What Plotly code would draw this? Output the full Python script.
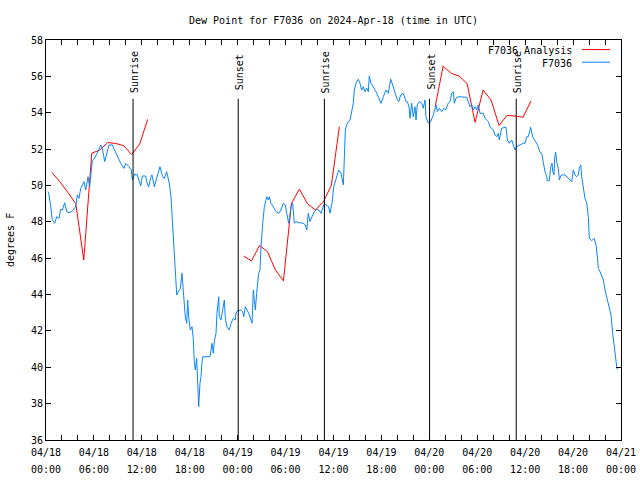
import plotly.graph_objects as go
import pandas as pd

BASE = pd.Timestamp("2024-04-18 00:00")

# Observations (F7036): hours after 04/18 00:00 UTC and dew point (F)
obs_hours = [
    0.25, 0.38, 0.59, 0.79, 1.09, 1.34, 1.63, 1.84, 2.04, 2.34,
    2.59, 2.88, 3.29, 3.72, 3.92, 4.13, 4.35, 4.76, 4.97, 5.26,
    5.47, 5.60, 5.80, 6.01, 6.42, 6.85, 7.05, 7.35, 7.60, 7.89,
    8.30, 8.60, 8.93, 9.35, 9.77, 9.98, 10.39, 10.68, 10.81, 11.11,
    11.43, 11.86, 12.06, 12.48, 12.69, 12.86, 13.15, 13.27, 13.56, 13.86,
    14.27, 14.61, 14.81, 15.11, 15.44, 15.65, 15.78, 15.94, 16.07, 16.19,
    16.37, 16.57, 16.82, 17.03, 17.12, 17.24, 17.44, 17.62, 17.74, 17.87,
    18.07, 18.28, 18.44, 18.57, 18.70, 18.87, 19.00, 19.07, 19.12, 19.28,
    19.41, 19.53, 19.62, 20.54, 20.79, 20.95, 21.07, 21.29, 21.41, 21.63,
    21.70, 21.91, 22.13, 22.33, 22.45, 22.63, 22.95, 23.17, 23.45, 23.70,
    23.79, 24.00, 24.42, 24.63, 24.76, 24.96, 25.38, 25.67, 25.80, 25.96,
    26.21, 26.38, 26.63, 26.80, 26.92, 27.14, 27.34, 27.64, 27.84, 27.96,
    28.17, 28.46, 28.80, 29.14, 29.43, 29.71, 29.97, 30.14, 30.39, 30.68,
    30.89, 31.09, 31.30, 31.72, 32.22, 32.47, 32.65, 32.84, 33.06, 33.31,
    33.60, 33.90, 34.15, 34.44, 34.65, 34.85, 35.06, 35.40, 35.56, 35.81,
    36.03, 36.31, 36.65, 36.94, 37.23, 37.35, 37.48, 37.65, 37.85, 38.07,
    38.28, 38.48, 38.61, 38.82, 39.11, 39.32, 39.53, 39.73, 39.94, 40.16,
    40.36, 40.48, 40.70, 40.98, 41.32, 41.61, 41.95, 42.24, 42.57, 42.86,
    43.16, 43.41, 43.70, 43.91, 44.16, 44.42, 44.74, 45.08, 45.24, 45.45,
    45.58, 45.79, 45.99, 46.21, 46.33, 46.49, 46.74, 47.04, 47.24, 47.46,
    47.58, 47.87, 48.17, 48.50, 48.84, 49.00, 49.25, 49.55, 49.84, 50.05,
    50.38, 50.59, 50.80, 51.00, 51.13, 51.34, 51.63, 52.05, 52.68, 52.88,
    53.09, 53.30, 53.51, 53.72, 53.93, 54.13, 54.35, 54.76, 54.97, 55.18,
    55.39, 55.60, 56.01, 56.22, 56.44, 56.64, 56.76, 57.06, 57.60, 57.77,
    58.01, 58.31, 58.51, 58.73, 58.94, 59.35, 59.77, 59.98, 60.19, 60.39,
    60.69, 60.94, 61.23, 61.44, 61.64, 61.86, 62.07, 62.20, 62.36, 62.48,
    62.70, 62.77, 63.02, 63.20, 63.36, 63.45, 63.61, 63.70, 63.83, 63.95,
    64.15, 64.28, 64.45, 64.58, 64.99, 65.20, 65.53, 65.83, 66.03, 66.24,
    66.45, 66.65, 66.78, 66.96, 67.08, 67.21, 67.37, 67.49, 67.71, 67.91,
    68.03, 68.33, 68.62, 68.87, 69.04, 69.16, 69.37, 69.59, 69.79, 70.00,
    70.21, 70.41, 70.63, 70.75, 70.96, 71.13, 71.29, 71.46, 71.54,
]
obs_values = [
    49.66, 49.48, 48.83, 48.10, 47.92, 48.28, 48.19, 48.69, 48.65, 49.05,
    48.56, 48.50, 48.60, 48.83, 49.48, 49.29, 49.84, 50.21, 49.75, 50.48,
    49.93, 50.67, 51.36, 51.44, 51.77, 52.23, 52.05, 51.31, 51.68, 52.23,
    52.23, 51.95, 51.58, 51.22, 50.94, 51.22, 51.03, 50.85, 50.30, 50.63,
    50.58, 49.97, 50.52, 50.52, 50.08, 49.93, 50.48, 50.58, 49.93, 50.39,
    51.03, 50.48, 50.39, 50.76, 50.12, 49.38, 48.28, 47.18, 46.08, 45.08,
    43.98, 44.16, 44.34, 45.17, 44.62, 43.43, 42.78, 42.42, 43.70, 42.78,
    42.05, 42.23, 41.59, 40.31, 39.85, 40.49, 39.48, 38.38, 37.83, 39.12,
    39.48, 40.22, 40.58, 40.58, 41.32, 40.77, 41.41, 41.87, 42.97, 43.88,
    42.78, 42.60, 43.15, 43.70, 42.78, 42.23, 42.05, 42.42, 42.69, 42.60,
    42.97, 43.11, 43.15, 43.06, 42.78, 43.33, 42.97, 42.51, 42.42, 44.25,
    43.15, 44.07, 45.17, 45.35, 46.63, 47.92, 48.83, 49.38, 49.20, 49.38,
    49.02, 48.83, 48.56, 48.47, 48.65, 49.02, 48.93, 48.47, 47.92, 48.83,
    49.02, 47.92, 48.01, 47.95, 47.92, 47.83, 47.55, 48.47, 48.01, 48.28,
    48.56, 48.69, 48.65, 48.47, 48.83, 49.02, 48.93, 48.83, 48.47, 49.02,
    49.93, 50.30, 50.85, 50.67, 50.03, 51.40, 53.05, 53.33, 53.51, 53.60,
    54.06, 54.52, 55.25, 55.62, 55.84, 55.62, 55.25, 55.43, 55.16, 55.35,
    55.16, 56.02, 55.62, 55.43, 55.16, 54.88, 54.52, 54.88, 55.25, 55.07,
    55.84, 55.53, 55.07, 54.80, 54.61, 54.98, 55.07, 54.61, 54.61, 54.33,
    53.70, 54.52, 53.78, 54.33, 53.60, 54.43, 54.61, 54.52, 54.25, 54.70,
    53.78, 53.42, 53.51, 53.88, 54.43, 54.06, 54.25, 54.06, 54.25, 54.15,
    54.54, 54.61, 55.07, 55.16, 54.52, 54.80, 54.88, 54.88, 54.85, 54.61,
    54.33, 54.43, 54.15, 54.33, 54.15, 54.43, 53.97, 53.97, 53.70, 53.60,
    53.51, 53.23, 53.05, 52.78, 52.68, 52.87, 52.50, 53.15, 53.20, 52.50,
    52.32, 52.50, 52.23, 51.95, 52.13, 52.23, 52.32, 52.32, 52.68, 52.68,
    53.20, 52.68, 52.50, 52.32, 52.13, 51.82, 51.77, 51.40, 51.03, 50.76,
    50.48, 50.26, 50.26, 51.03, 51.22, 50.76, 50.58, 51.58, 51.82, 51.31,
    50.94, 50.30, 50.52, 50.58, 50.58, 50.48, 50.30, 50.21, 50.85, 50.58,
    50.48, 50.58, 50.94, 51.13, 50.48, 50.12, 49.57, 49.29, 49.02, 48.28,
    47.09, 46.96, 47.09, 46.73, 46.08, 45.44, 45.26, 44.98, 44.80, 44.25,
    43.88, 43.61, 43.15, 42.88, 41.87, 41.13, 40.68, 40.03, 39.89,
]

# Analysis (F7036 Analysis), three separate runs
ana1_hours = [0.73, 1.73, 2.73, 3.73, 4.73, 5.73, 6.73, 7.73, 8.73, 9.73, 10.73, 11.73, 12.73]
ana1_values = [50.72, 50.21, 49.62, 49.00, 45.90, 51.77, 51.95, 52.36, 52.31, 52.19, 51.70, 52.28, 53.63]
ana2_hours = [24.73, 25.73, 26.73, 27.73, 28.73, 29.73, 30.73, 31.73, 32.73, 33.73, 34.73, 35.73, 36.73]
ana2_values = [46.12, 45.85, 46.70, 46.36, 45.35, 44.75, 49.00, 49.80, 49.00, 48.65, 49.10, 50.00, 53.23]
ana3_hours = [48.73, 49.73, 50.73, 51.73, 52.73, 53.73, 54.73, 55.73, 56.73, 57.73, 58.73, 59.73, 60.73]
ana3_values = [54.33, 56.57, 56.17, 56.02, 55.60, 53.47, 55.25, 54.70, 53.30, 53.85, 53.82, 53.75, 54.65]

# Sunrise / sunset markers
event_labels = ["Sunrise", "Sunset", "Sunrise", "Sunset", "Sunrise"]
event_hours = [10.90, 24.07, 34.86, 48.03, 58.88]

x_tick_hours = [0, 6, 12, 18, 24, 30, 36, 42, 48, 54, 60, 66, 72]
x_tick_dates = ["04/18", "04/18", "04/18", "04/18", "04/19", "04/19", "04/19",
                "04/19", "04/20", "04/20", "04/20", "04/20", "04/21"]
x_tick_times = ["00:00", "06:00", "12:00", "18:00", "00:00", "06:00", "12:00",
                "18:00", "00:00", "06:00", "12:00", "18:00", "00:00"]
y_ticks = [36, 38, 40, 42, 44, 46, 48, 50, 52, 54, 56, 58]


def to_time(h):
    return BASE + pd.Timedelta(hours=h)


FONT = "DejaVu Sans Mono"
RED = "#ff0000"
BLUE = "#0a84ff"
TF = dict(family=FONT, size=10, color="black")

fig = go.Figure()

ana_x, ana_y = [], []
for hs, vs in [(ana1_hours, ana1_values), (ana2_hours, ana2_values), (ana3_hours, ana3_values)]:
    ana_x += [to_time(h) for h in hs] + [None]
    ana_y += list(vs) + [None]

fig.add_trace(go.Scatter(x=ana_x, y=ana_y, mode="lines", name="F7036 Analysis",
                         line=dict(color=RED, width=1), connectgaps=False))
fig.add_trace(go.Scatter(x=[to_time(h) for h in obs_hours], y=obs_values, mode="lines",
                         name="F7036", line=dict(color=BLUE, width=1)))
# empty trace that carries the second (time-of-day) label row
fig.add_trace(go.Scatter(x=[to_time(0), to_time(72)], y=[None, None], xaxis="x2",
                         mode="lines", showlegend=False, hoverinfo="skip"))

for lab, h in zip(event_labels, event_hours):
    t = to_time(h)
    fig.add_shape(type="line", xref="x", yref="y", x0=t, x1=t, y0=36, y1=54.77,
                  line=dict(color="black", width=1))
    fig.add_annotation(x=t, y=56.24, xref="x", yref="y", text=lab, textangle=-90,
                       showarrow=False, xanchor="center", yanchor="middle", xshift=1,
                       font=TF)

# 2-hour tick marks, labelled only every 6 hours
tickvals, row1, row2 = [], [], []
for h in range(0, 73, 2):
    tickvals.append(to_time(h))
    if h in x_tick_hours:
        i = x_tick_hours.index(h)
        row1.append(x_tick_dates[i])
        row2.append(x_tick_times[i])
    else:
        row1.append("")
        row2.append("")

xr = [to_time(0), to_time(72)]
fig.update_layout(
    xaxis=dict(type="date", range=xr, tickmode="array", tickvals=tickvals, ticktext=row1,
               ticks="inside", ticklen=5, tickcolor="black", showline=True,
               linecolor="black", linewidth=1, mirror="ticks", showgrid=False,
               zeroline=False, tickfont=TF, ticklabelstandoff=3, automargin=False),
    xaxis2=dict(type="date", range=xr, overlaying="x", anchor="y", side="bottom",
                tickmode="array", tickvals=tickvals, ticktext=row2, ticks="",
                showline=False, showgrid=False, zeroline=False, tickfont=TF,
                ticklabelstandoff=22, automargin=False),
    yaxis=dict(range=[36, 58], tickmode="array", tickvals=y_ticks,
               ticktext=[str(v) for v in y_ticks], ticks="inside", ticklen=5,
               tickcolor="black", showline=True, linecolor="black", linewidth=1,
               mirror="ticks", showgrid=False, zeroline=False, tickfont=TF,
               automargin=False),
)

# custom legend: text on the left, line sample on the right (gnuplot style)
legend_items = [("F7036 Analysis", RED, 0.974), ("F7036", BLUE, 0.9425)]
for name, col, yp in legend_items:
    fig.add_annotation(x=0.918, y=yp, xref="paper", yref="paper", text=name,
                       showarrow=False, xanchor="right", yanchor="middle", font=TF)
    fig.add_shape(type="line", xref="paper", yref="paper", x0=0.932, x1=0.981,
                  y0=yp + 0.002, y1=yp + 0.002, line=dict(color=col, width=1))

fig.add_annotation(x=-0.0626, y=0.5, xref="paper", yref="paper", text="degrees F",
                   textangle=-90, showarrow=False, xanchor="center", yanchor="middle",
                   font=TF)

fig.update_layout(
    width=640, height=480,
    margin=dict(l=46, r=19, t=40, b=40, autoexpand=False),
    paper_bgcolor="white", plot_bgcolor="white",
    showlegend=False,
    font=TF,
    title=dict(text="Dew Point for F7036 on 2024-Apr-18 (time in UTC)",
               x=0.5, xref="paper", xanchor="center",
               y=1 - 20 / 480, yref="container", yanchor="middle", font=TF),
)

# remove the default 8px page margin so the 640x480 figure fills the window exactly
fig.write_html("out.html", config={"displayModeBar": False},
               post_script="document.body.style.margin='0px';")
